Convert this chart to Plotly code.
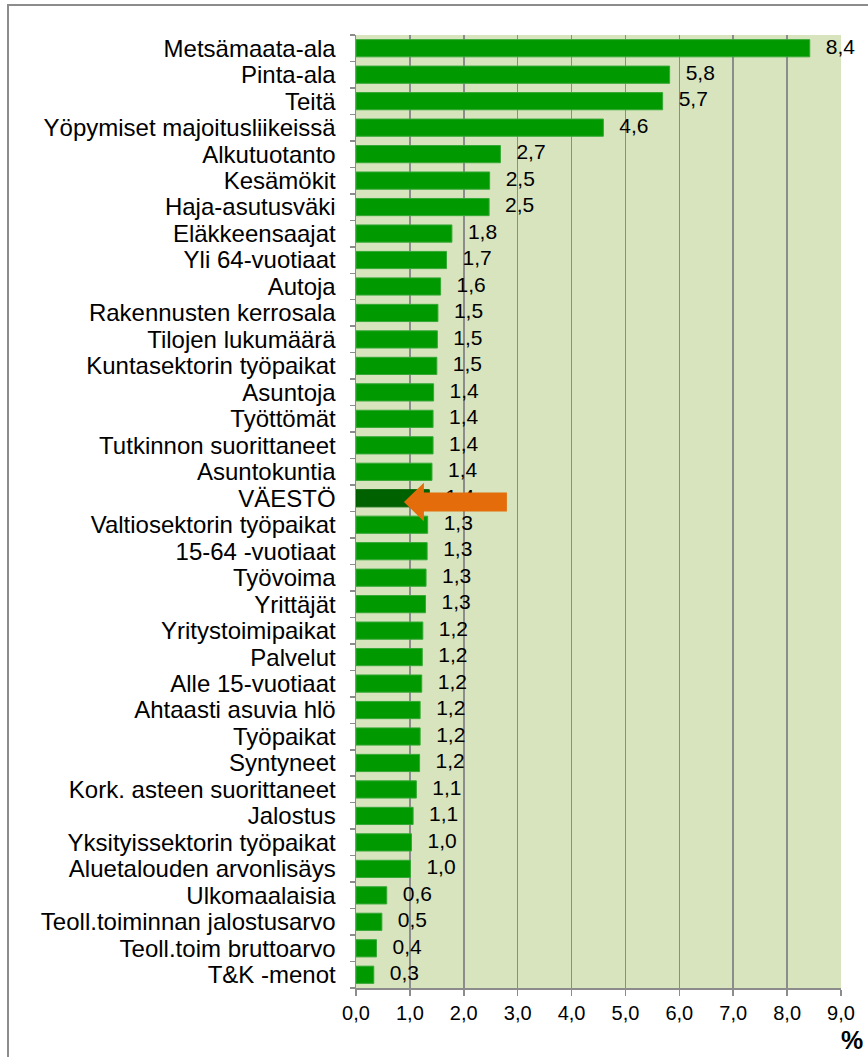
import plotly.graph_objects as go

categories = [
    "Metsämaata-ala", "Pinta-ala", "Teitä", "Yöpymiset majoitusliikeissä",
    "Alkutuotanto", "Kesämökit", "Haja-asutusväki", "Eläkkeensaajat",
    "Yli 64-vuotiaat", "Autoja", "Rakennusten kerrosala", "Tilojen lukumäärä",
    "Kuntasektorin työpaikat", "Asuntoja", "Työttömät", "Tutkinnon suorittaneet",
    "Asuntokuntia", "VÄESTÖ", "Valtiosektorin työpaikat", "15-64 -vuotiaat",
    "Työvoima", "Yrittäjät", "Yritystoimipaikat", "Palvelut",
    "Alle 15-vuotiaat", "Ahtaasti asuvia hlö", "Työpaikat", "Syntyneet",
    "Kork. asteen suorittaneet", "Jalostus", "Yksityissektorin työpaikat",
    "Aluetalouden arvonlisäys", "Ulkomaalaisia", "Teoll.toiminnan jalostusarvo",
    "Teoll.toim bruttoarvo", "T&K -menot",
]
values = [
    8.42, 5.82, 5.69, 4.59,
    2.68, 2.48, 2.47, 1.78,
    1.68, 1.57, 1.52, 1.51,
    1.50, 1.44, 1.43, 1.43,
    1.41, 1.36, 1.33, 1.32,
    1.30, 1.29, 1.24, 1.23,
    1.22, 1.19, 1.19, 1.18,
    1.12, 1.06, 1.03, 1.01,
    0.57, 0.48, 0.38, 0.33,
]
x_ticks = [0, 1, 2, 3, 4, 5, 6, 7, 8, 9]
highlight = "VÄESTÖ"

positions = list(range(len(categories)))
colors = ["#006100" if c == highlight else "#009900" for c in categories]
line_colors = ["#006100" if c == highlight else "#35a835" for c in categories]
FONT = "Liberation Sans, Arial, sans-serif"

fig = go.Figure()
fig.add_trace(go.Bar(
    x=values, y=positions, orientation="h",
    marker=dict(color=colors, line=dict(color=line_colors, width=1)),
    hoverinfo="skip", showlegend=False,
))
fig.add_trace(go.Scatter(
    x=values, y=positions, mode="markers+text",
    marker=dict(size=24, color="rgba(0,0,0,0)"),
    texttemplate="%{x:.1f}", textposition="middle right",
    textfont=dict(family=FONT, size=21, color="#000000"),
    hoverinfo="skip", showlegend=False, cliponaxis=False,
))

# orange arrow pointing at the highlighted bar
hi = categories.index(highlight)
arrow = (f"M 0.89 {hi + 0.14} L 1.26 {hi - 0.59} L 1.26 {hi - 0.22} "
         f"L 2.80 {hi - 0.22} L 2.80 {hi + 0.50} L 1.26 {hi + 0.50} "
         f"L 1.26 {hi + 0.88} Z")

fig.update_layout(
    width=868, height=1057,
    margin=dict(l=356, r=27, t=35, b=69),
    paper_bgcolor="#ffffff", plot_bgcolor="#D7E4BD",
    bargap=0.35, separators=", ",
    font=dict(family=FONT, color="#000000"),
    xaxis=dict(
        range=[0, 9], tickvals=x_ticks, tickformat=".1f",
        showgrid=True, gridcolor="#8c8c8c", gridwidth=1.5,
        showline=True, linecolor="#8c8c8c", linewidth=1.5,
        ticks="outside", ticklen=6, tickcolor="#8c8c8c", tickwidth=1.5,
        tickfont=dict(family=FONT, size=20, color="#000000"),
        zeroline=False, fixedrange=True,
    ),
    yaxis=dict(
        range=[len(categories) - 0.5, -0.5],
        tickvals=positions, ticktext=categories,
        ticks="", showgrid=False, zeroline=False,
        showline=True, linecolor="#8c8c8c", linewidth=1.5,
        tickfont=dict(family=FONT, size=24, color="#000000"),
        ticklabelstandoff=14,
        minor=dict(ticks="outside", tick0=0.5, dtick=1, ticklen=5,
                   tickcolor="#8c8c8c", tickwidth=1.5, showgrid=False),
        fixedrange=True,
    ),
    shapes=[
        dict(type="path", path=arrow, xref="x", yref="y",
             fillcolor="#E46C0A", line=dict(width=0), layer="above"),
        dict(type="rect", xref="paper", yref="paper",
             x0=-0.7175, x1=1.07, y0=-0.08, y1=1.0315,
             line=dict(color="#8c8c8c", width=2), fillcolor="rgba(0,0,0,0)",
             layer="below"),
    ],
    annotations=[
        dict(text="<b>%</b>", xref="paper", yref="paper", x=1.023, y=-0.055,
             xanchor="center", yanchor="middle", showarrow=False,
             font=dict(family=FONT, size=25, color="#000000")),
    ],
)

fig.write_html(
    "out.html",
    config={"displayModeBar": False, "staticPlot": True},
    post_script="document.body.style.margin='0';document.body.style.overflow='hidden';",
)
